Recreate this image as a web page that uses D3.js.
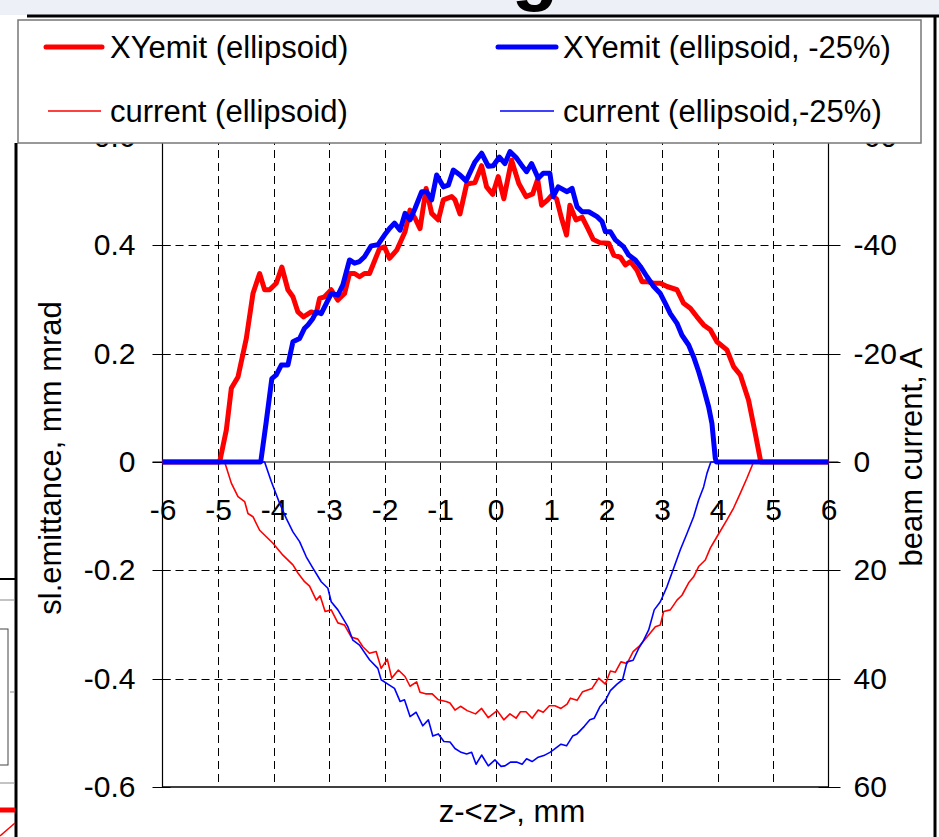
<!DOCTYPE html>
<html>
<head>
<meta charset="utf-8">
<script src="https://cdn.jsdelivr.net/npm/d3@7"></script>
<style>
  html, body { margin: 0; padding: 0; background: #ffffff; }
  svg { display: block; }
  text { font-family: "Liberation Sans", Arial, sans-serif; fill: #000; }
</style>
</head>
<body>
<svg id="chart" width="939" height="837"></svg>
<script>
// ---------------- data ----------------
const xTicks = [-6, -5, -4, -3, -2, -1, 0, 1, 2, 3, 4, 5, 6];
const yLeftTicks = [-0.6, -0.4, -0.2, 0, 0.2, 0.4, 0.6];
const yRightTicks = [-60, -40, -20, 0, 20, 40, 60];

const legendLabels = ["XYemit (ellipsoid)", "XYemit (ellipsoid, -25%)", "current (ellipsoid)", "current (ellipsoid,-25%)"];

// XYemit (ellipsoid)  [mm mrad]
const zEmit1 = [-6, -4.97, -4.85, -4.76, -4.64, -4.49, -4.37, -4.25, -4.16, -4.07, -3.95, -3.85, -3.74, -3.65, -3.56, -3.46, -3.32, -3.23, -3.17, -3.08, -2.96, -2.84, -2.72, -2.63, -2.54, -2.45, -2.36, -2.27, -2.09, -2.00, -1.91, -1.78, -1.63, -1.54, -1.45, -1.36, -1.25, -1.15, -1.03, -0.94, -0.79, -0.73, -0.64, -0.52, -0.37, -0.25, -0.16, -0.05, 0.05, 0.15, 0.29, 0.42, 0.55, 0.67, 0.76, 0.83, 0.94, 1.01, 1.10, 1.19, 1.28, 1.34, 1.45, 1.56, 1.65, 1.76, 1.88, 2.04, 2.13, 2.25, 2.34, 2.43, 2.55, 2.64, 2.73, 2.85, 2.97, 3.09, 3.27, 3.39, 3.51, 3.63, 3.75, 3.87, 3.99, 4.17, 4.29, 4.41, 4.56, 4.68, 4.78, 6];
const emit1 = [0, 0, 0.059, 0.136, 0.157, 0.228, 0.311, 0.348, 0.318, 0.318, 0.330, 0.360, 0.318, 0.305, 0.277, 0.268, 0.277, 0.274, 0.302, 0.305, 0.318, 0.299, 0.311, 0.348, 0.348, 0.342, 0.348, 0.348, 0.394, 0.397, 0.376, 0.391, 0.425, 0.465, 0.450, 0.431, 0.505, 0.459, 0.447, 0.484, 0.490, 0.484, 0.458, 0.513, 0.516, 0.547, 0.508, 0.494, 0.527, 0.486, 0.557, 0.514, 0.490, 0.495, 0.522, 0.474, 0.484, 0.492, 0.486, 0.450, 0.419, 0.474, 0.447, 0.452, 0.434, 0.411, 0.405, 0.404, 0.382, 0.378, 0.364, 0.370, 0.354, 0.333, 0.333, 0.330, 0.330, 0.324, 0.318, 0.293, 0.284, 0.268, 0.253, 0.244, 0.222, 0.207, 0.176, 0.161, 0.114, 0.053, 0, 0];

// XYemit (ellipsoid, -25%)  [mm mrad]
const zEmit2 = [-6, -4.23, -4.13, -4.03, -3.95, -3.86, -3.74, -3.65, -3.53, -3.44, -3.38, -3.29, -3.23, -3.14, -2.96, -2.84, -2.75, -2.63, -2.54, -2.45, -2.36, -2.24, -2.12, -2.00, -1.91, -1.82, -1.72, -1.63, -1.54, -1.45, -1.33, -1.24, -1.15, -1.06, -0.94, -0.85, -0.76, -0.64, -0.53, -0.37, -0.25, -0.13, -0.04, 0.07, 0.17, 0.26, 0.38, 0.47, 0.56, 0.65, 0.77, 0.86, 0.98, 1.04, 1.13, 1.29, 1.38, 1.47, 1.56, 1.68, 1.83, 1.92, 1.98, 2.07, 2.16, 2.31, 2.40, 2.52, 2.61, 2.73, 2.85, 2.97, 3.06, 3.15, 3.27, 3.36, 3.48, 3.57, 3.66, 3.75, 3.84, 3.90, 3.96, 3.98, 6];
const emit2 = [0, 0, 0.075, 0.154, 0.161, 0.179, 0.179, 0.222, 0.228, 0.247, 0.253, 0.265, 0.277, 0.274, 0.311, 0.308, 0.327, 0.373, 0.367, 0.370, 0.379, 0.399, 0.401, 0.419, 0.431, 0.441, 0.428, 0.459, 0.447, 0.468, 0.499, 0.499, 0.484, 0.530, 0.508, 0.511, 0.539, 0.530, 0.519, 0.554, 0.570, 0.546, 0.547, 0.563, 0.551, 0.573, 0.561, 0.548, 0.536, 0.551, 0.524, 0.533, 0.533, 0.490, 0.508, 0.499, 0.505, 0.471, 0.462, 0.462, 0.453, 0.444, 0.425, 0.425, 0.410, 0.397, 0.382, 0.373, 0.361, 0.342, 0.324, 0.311, 0.293, 0.274, 0.256, 0.234, 0.216, 0.194, 0.167, 0.136, 0.102, 0.071, 0.007, 0, 0];

// current (ellipsoid)  [A]
const zCur1 = [-6, -4.88, -4.76, -4.64, -4.52, -4.46, -4.37, -4.25, -4.13, -4.01, -3.83, -3.65, -3.56, -3.44, -3.35, -3.23, -3.16, -3.07, -2.96, -2.84, -2.72, -2.60, -2.48, -2.39, -2.27, -2.15, -2.06, -1.95, -1.87, -1.75, -1.63, -1.54, -1.42, -1.36, -1.26, -1.14, -1.03, -0.89, -0.82, -0.73, -0.63, -0.51, -0.36, -0.25, -0.13, 0.03, 0.15, 0.26, 0.37, 0.45, 0.55, 0.66, 0.77, 0.86, 0.97, 1.07, 1.18, 1.29, 1.35, 1.47, 1.57, 1.74, 1.86, 1.98, 2.07, 2.16, 2.26, 2.37, 2.48, 2.58, 2.73, 2.88, 2.97, 3.03, 3.15, 3.27, 3.36, 3.48, 3.57, 3.66, 3.78, 3.87, 3.99, 4.17, 4.29, 4.41, 4.53, 4.65, 6];
const cur1 = [0, 0, 3.9, 6.4, 7.3, 9.5, 10.1, 12.6, 13.8, 15.0, 17.2, 19.0, 20.5, 22.1, 22.9, 25.5, 24.7, 27.6, 27.3, 29.7, 30.1, 32.3, 32.7, 34.1, 35.3, 35.0, 38.1, 36.4, 39.9, 38.4, 39.6, 41.4, 40.6, 42.5, 42.8, 42.8, 43.9, 44.2, 44.5, 45.8, 45.1, 45.9, 46.5, 45.5, 47.2, 45.9, 47.6, 46.5, 47.3, 46.1, 46.1, 47.3, 45.8, 46.2, 45.0, 45.0, 45.5, 44.7, 43.6, 44.0, 42.4, 41.8, 39.9, 41.0, 38.6, 38.8, 36.9, 37.2, 35.0, 34.1, 32.3, 30.4, 30.1, 27.6, 27.3, 25.5, 24.6, 22.3, 21.2, 19.3, 18.1, 15.9, 13.8, 10.7, 8.5, 5.8, 3.0, 0, 0];

// current (ellipsoid,-25%)  [A]
const zCur2 = [-6, -4.16, -4.04, -3.89, -3.77, -3.65, -3.53, -3.41, -3.29, -3.14, -3.02, -2.96, -2.84, -2.66, -2.57, -2.45, -2.27, -2.12, -2.06, -1.94, -1.82, -1.72, -1.64, -1.54, -1.43, -1.31, -1.21, -1.13, -1.03, -0.93, -0.82, -0.73, -0.62, -0.52, -0.43, -0.35, -0.25, -0.13, -0.01, 0.10, 0.17, 0.27, 0.38, 0.48, 0.56, 0.66, 0.77, 0.87, 0.98, 1.05, 1.18, 1.28, 1.39, 1.47, 1.60, 1.70, 1.78, 1.88, 1.98, 2.07, 2.19, 2.29, 2.37, 2.48, 2.58, 2.67, 2.76, 2.86, 2.97, 3.09, 3.21, 3.33, 3.45, 3.57, 3.66, 3.75, 3.81, 3.88, 6];
const cur2 = [0, 0, 3.6, 7.6, 10.4, 12.9, 14.7, 17.5, 19.6, 22.1, 23.3, 25.8, 27.3, 30.4, 32.9, 33.8, 36.5, 38.1, 40.2, 41.0, 41.8, 44.2, 43.9, 47.0, 46.2, 48.7, 47.6, 50.6, 50.2, 51.6, 51.7, 52.9, 53.6, 53.9, 53.6, 55.8, 54.1, 56.1, 55.0, 56.2, 56.1, 55.4, 55.4, 55.8, 54.8, 55.3, 54.5, 54.2, 53.6, 53.1, 52.1, 52.4, 50.6, 50.2, 48.8, 47.6, 47.3, 45.2, 44.0, 42.2, 41.0, 40.2, 36.9, 36.6, 34.4, 32.9, 31.0, 27.3, 25.8, 23.0, 19.6, 16.2, 13.2, 10.1, 7.0, 4.6, 2.1, 0, 0];

// ---------------- drawing ----------------
const svg = d3.select("#chart");
const W = 939, H = 837;
const plot = { left: 162.5, right: 828.5, top: 137, bottom: 787 };

const x = d3.scaleLinear().domain([-6, 6]).range([plot.left, plot.right]);
const yL = d3.scaleLinear().domain([-0.6, 0.6]).range([plot.bottom, plot.top]);
const yR = d3.scaleLinear().domain([60, -60]).range([plot.bottom, plot.top]);

const hy = s => String(s).replace("\u2212", "-");

// top strip (outside frame)
svg.append("rect").attr("x", 0).attr("y", 0).attr("width", W).attr("height", 15).attr("fill", "#eef0f8");
// partial title glyph
svg.append("text").attr("x", 535).attr("y", -4).attr("text-anchor", "middle")
  .style("font-size", "76px").style("font-weight", "bold").text("g");

// gridlines
const grid = svg.append("g").attr("stroke", "#000").attr("stroke-width", 1).attr("stroke-dasharray", "8,5");
grid.selectAll("line.v").data(xTicks.filter(d => d > -6 && d < 6)).join("line")
  .attr("x1", d => Math.round(x(d)) + 0.5).attr("x2", d => Math.round(x(d)) + 0.5)
  .attr("y1", plot.top).attr("y2", plot.bottom);
grid.selectAll("line.h").data(yLeftTicks.filter(d => d !== 0 && Math.abs(d) < 0.6)).join("line")
  .attr("y1", d => Math.round(yL(d)) + 0.5).attr("y2", d => Math.round(yL(d)) + 0.5)
  .attr("x1", plot.left).attr("x2", plot.right);

// zero line (category axis)
svg.append("line").attr("x1", plot.left - 10).attr("x2", plot.right + 10)
  .attr("y1", yL(0)).attr("y2", yL(0)).attr("stroke", "#555").attr("stroke-width", 1.5);

// frame lines: left, right, bottom
svg.append("line").attr("x1", plot.left).attr("x2", plot.left).attr("y1", plot.top).attr("y2", plot.bottom).attr("stroke", "#000").attr("stroke-width", 1.2);
svg.append("line").attr("x1", plot.right).attr("x2", plot.right).attr("y1", plot.top).attr("y2", plot.bottom).attr("stroke", "#000").attr("stroke-width", 1.2);
svg.append("line").attr("x1", plot.left).attr("x2", plot.right).attr("y1", plot.bottom).attr("y2", plot.bottom).attr("stroke", "#000").attr("stroke-width", 1.5);

// crossing tick marks
svg.append("g").selectAll("line").data(yLeftTicks).join("line")
  .attr("x1", plot.left - 10).attr("x2", plot.left + 8)
  .attr("y1", d => Math.round(yL(d)) + 0.5).attr("y2", d => Math.round(yL(d)) + 0.5)
  .attr("stroke", "#000").attr("stroke-width", 1);
svg.append("g").selectAll("line").data(yRightTicks).join("line")
  .attr("x1", plot.right - 10).attr("x2", plot.right + 12)
  .attr("y1", d => Math.round(yR(d)) + 0.5).attr("y2", d => Math.round(yR(d)) + 0.5)
  .attr("stroke", "#000").attr("stroke-width", 1);

// axes labels via d3 axes
function styleAxis(g) {
  g.select(".domain").remove();
  g.selectAll(".tick line").remove();
  g.selectAll("text").style("font-family", '"Liberation Sans", Arial, sans-serif').style("font-size", "30px").attr("fill", "#000");
}
svg.append("g").attr("transform", `translate(${plot.left},0)`)
  .call(d3.axisLeft(yL).tickValues(yLeftTicks).tickSize(0).tickPadding(27).tickFormat(d => d === 0 ? "0" : hy(d3.format(".1f")(d))))
  .call(styleAxis);
svg.append("g").attr("transform", `translate(${plot.right},0)`)
  .call(d3.axisRight(yR).tickValues(yRightTicks).tickSize(0).tickPadding(25).tickFormat(d => hy(d3.format("d")(d))))
  .call(styleAxis);
svg.append("g").attr("transform", `translate(0,${yL(0)})`)
  .call(d3.axisBottom(x).tickValues(xTicks).tickSize(0).tickPadding(37).tickFormat(d => hy(d3.format("d")(d))))
  .call(styleAxis);

// axis titles
svg.append("text").attr("transform", "translate(50,458) rotate(-90)").attr("text-anchor", "middle").attr("dy", "0.35em")
  .style("font-size", "31px").text("sl.emittance, mm mrad");
svg.append("text").attr("transform", "translate(911,457) rotate(-90)").attr("text-anchor", "middle").attr("dy", "0.35em")
  .style("font-size", "31px").text("beam current, A");
svg.append("text").attr("x", 512).attr("y", 822).attr("text-anchor", "middle")
  .style("font-size", "31px").text("z-<z>, mm");

// series
svg.append("defs").append("clipPath").attr("id", "pc").append("rect")
  .attr("x", plot.left - 3).attr("y", plot.top - 5).attr("width", plot.right - plot.left + 6).attr("height", plot.bottom - plot.top + 10);
const series = svg.append("g").attr("clip-path", "url(#pc)");
const lineL = d3.line().x(d => x(d[0])).y(d => yL(d[1]));
const lineR = d3.line().x(d => x(d[0])).y(d => yR(d[1]));
const pairs = (zs, vs) => zs.map((z, i) => [z, vs[i]]);

series.append("path").datum(pairs(zCur1, cur1)).attr("d", lineR).attr("fill", "none").attr("stroke", "#ff0000").attr("stroke-width", 1.6).attr("stroke-linejoin", "round");
series.append("path").datum(pairs(zCur2, cur2)).attr("d", lineR).attr("fill", "none").attr("stroke", "#0000ff").attr("stroke-width", 1.6).attr("stroke-linejoin", "round");
series.append("path").datum(pairs(zEmit1, emit1)).attr("d", lineL).attr("fill", "none").attr("stroke", "#ff0000").attr("stroke-width", 5).attr("stroke-linejoin", "round");
series.append("path").datum(pairs(zEmit2, emit2)).attr("d", lineL).attr("fill", "none").attr("stroke", "#0000ff").attr("stroke-width", 5).attr("stroke-linejoin", "round");

// legend
const lg = svg.append("g");
lg.append("rect").attr("x", 18).attr("y", 20).attr("width", 903).attr("height", 123)
  .attr("fill", "#fff").attr("stroke", "#777").attr("stroke-width", 1.5);
const legendItems = [
  { label: legendLabels[0], color: "#ff0000", w: 5, x0: 46, x1: 102, tx: 110, y: 47 },
  { label: legendLabels[1], color: "#0000ff", w: 5, x0: 498, x1: 556, tx: 563, y: 47 },
  { label: legendLabels[2], color: "#ff0000", w: 1.6, x0: 48, x1: 101, tx: 110, y: 111 },
  { label: legendLabels[3], color: "#0000ff", w: 1.6, x0: 500, x1: 554, tx: 563, y: 111 }
];
legendItems.forEach(it => {
  lg.append("line").attr("x1", it.x0).attr("x2", it.x1).attr("y1", it.y).attr("y2", it.y)
    .attr("stroke", it.color).attr("stroke-width", it.w).attr("stroke-linecap", it.w > 2 ? "round" : "butt");
  lg.append("text").attr("x", it.tx).attr("y", it.y).attr("dy", "0.35em").style("font-size", "31px").text(it.label);
});

// outer frame (thick black)
const frame = svg.append("g").attr("stroke", "#000").attr("stroke-width", 3).attr("fill", "none");
frame.append("line").attr("x1", 27).attr("x2", W).attr("y1", 16).attr("y2", 16);
frame.append("line").attr("x1", 16).attr("x2", 16).attr("y1", 143).attr("y2", H);
frame.append("line").attr("x1", 935).attr("x2", 935).attr("y1", 15).attr("y2", H);

// neighbouring chart fragments at the left edge
const nb = svg.append("g");
nb.append("line").attr("x1", 0).attr("x2", 15).attr("y1", 579).attr("y2", 579).attr("stroke", "#000").attr("stroke-width", 2);
nb.append("line").attr("x1", 0).attr("x2", 15).attr("y1", 600).attr("y2", 600).attr("stroke", "#888").attr("stroke-width", 1);
nb.append("rect").attr("x", -2).attr("y", 629).attr("width", 10).attr("height", 136).attr("fill", "none").attr("stroke", "#444").attr("stroke-width", 1);
nb.append("line").attr("x1", 10).attr("x2", 15).attr("y1", 692).attr("y2", 692).attr("stroke", "#888").attr("stroke-width", 1);
nb.append("line").attr("x1", 0).attr("x2", 15).attr("y1", 783).attr("y2", 783).attr("stroke", "#888").attr("stroke-width", 1);
nb.append("line").attr("x1", 0).attr("x2", 15).attr("y1", 810).attr("y2", 810).attr("stroke", "#ff0000").attr("stroke-width", 5);
nb.append("line").attr("x1", 0).attr("x2", 15).attr("y1", 836).attr("y2", 823).attr("stroke", "#ff0000").attr("stroke-width", 1.5);
</script>
</body>
</html>
